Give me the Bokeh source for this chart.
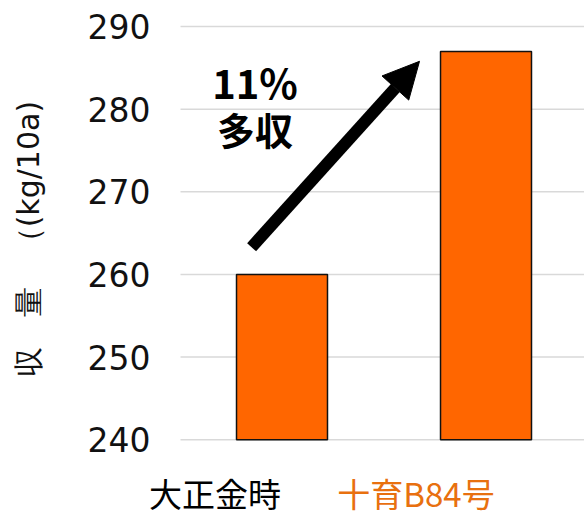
import math
from bokeh.plotting import figure
from bokeh.models import Range1d, Label, Arrow, NormalHead, ColumnDataSource
from bokeh.core.properties import value
from bokeh.embed import file_html
from bokeh.resources import INLINE

categories = ["大正金時", "十育B84号"]
yields = [260, 287]
cat_colors = ["#000000", "#E8700F"]
y_ticks = [240, 250, 260, 270, 280, 290]
y_tick_labels = [str(t) for t in y_ticks]
y_title = "収\u3000量\u3000（(kg/10a)"
annot_lines = ["11%", "多収"]
# arrow endpoints (data units)
arrow_start = (-0.149, 263.3)
arrow_end = (0.674, 285.8)

xs = list(range(len(categories)))
grid_left = -0.4975
x_end = 1.4828
base = y_ticks[0]

p = figure(width=584, height=511, output_backend="svg", toolbar_location=None,
           x_range=Range1d(-1.3799, x_end), y_range=Range1d(231.3, 293.16),
           min_border=0)
p.outline_line_color = None
p.background_fill_color = "white"
p.axis.visible = False
p.grid.visible = False

# gridlines
p.segment(x0=grid_left, x1=x_end, y0=y_ticks, y1=y_ticks,
          line_color="#d9d9d9", line_width=1.5)

# bars
p.vbar(x=xs, top=yields, bottom=base, width=0.446, fill_color="#FF6600",
       line_color="#111111", line_width=1.5)

# y tick labels
tick_src = ColumnDataSource(dict(y=y_ticks, t=y_tick_labels))
p.text(x=grid_left, y="y", text="t", source=tick_src, x_offset=-30,
       text_align="right", text_baseline="middle",
       text_font=value("DejaVu Sans"), text_font_size=value("33px"),
       text_color="#111111")

# y axis title
p.add_layout(Label(x=grid_left, y=(y_ticks[0] + y_ticks[-1]) / 2, text=y_title,
                   x_offset=-152, y_offset=-6, angle=math.pi / 2,
                   text_align="center", text_baseline="middle",
                   text_font="DejaVu Sans", text_font_size="30px",
                   text_color="#111111"))

# category labels
offsets = [-67, -70]
for i, (c, col) in enumerate(zip(categories, cat_colors)):
    p.add_layout(Label(x=xs[i], y=base, text=c, x_offset=offsets[i], y_offset=-53,
                       text_align="center", text_baseline="middle",
                       text_font="Noto Sans CJK JP", text_font_size="33px",
                       text_color=col))

p.add_layout(Arrow(end=NormalHead(size=36, fill_color="black", line_color="black"),
                   x_start=arrow_start[0], y_start=arrow_start[1],
                   x_end=arrow_end[0], y_end=arrow_end[1],
                   line_width=12, line_color="black"))

p.add_layout(Label(x=xs[0], y=arrow_end[1], text=annot_lines[0], x_offset=-27, y_offset=-21,
                   text_align="center", text_baseline="middle",
                   text_font="Noto Sans CJK JP", text_font_style="bold",
                   text_font_size="40px", text_color="black"))
p.add_layout(Label(x=xs[0], y=arrow_end[1], text=annot_lines[1], x_offset=-27, y_offset=-67,
                   text_align="center", text_baseline="middle",
                   text_font="Noto Sans CJK JP", text_font_style="bold",
                   text_font_size="38px", text_color="black"))

open("out.html", "w").write(file_html(p, INLINE))
